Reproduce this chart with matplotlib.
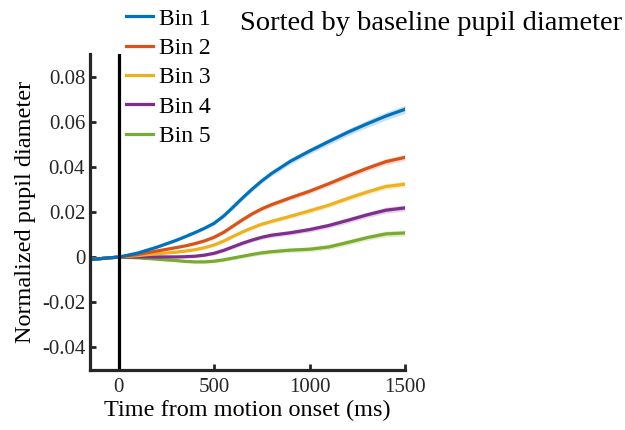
import numpy as np
import matplotlib
matplotlib.use('Agg')
import matplotlib.pyplot as plt

plt.rcParams['font.family'] = ['Liberation Serif', 'DejaVu Serif']

# time axis (ms from motion onset)
t = [-150, -100, -50, 0, 100, 200, 300, 350, 400, 450, 500, 550, 600,
     650, 700, 750, 800, 900, 1000, 1100, 1200, 1300, 1400, 1500]

bin1 = [-0.001, -0.0007, -0.0003, 0, 0.0018, 0.0044, 0.0074, 0.0091, 0.0109,
        0.0128, 0.015, 0.0182, 0.0222, 0.0263, 0.0302, 0.0338, 0.037,
        0.0425, 0.047, 0.0512, 0.0553, 0.059, 0.0625, 0.0655]
bin2 = [-0.001, -0.0007, -0.0003, 0, 0.0012, 0.0027, 0.0042, 0.005, 0.006,
        0.0072, 0.0088, 0.011, 0.0138, 0.0166, 0.0192, 0.0214, 0.0232,
        0.0263, 0.0292, 0.0325, 0.036, 0.0393, 0.0423, 0.0442]
bin3 = [-0.001, -0.0007, -0.0003, 0, 0.0007, 0.0015, 0.0022, 0.0027, 0.0033,
        0.0042, 0.0054, 0.0071, 0.0092, 0.0112, 0.013, 0.0146, 0.0158,
        0.0181, 0.0205, 0.023, 0.026, 0.0288, 0.0313, 0.0323]
bin4 = [-0.001, -0.0007, -0.0003, 0, 0.0001, 0.0001, 0.0001, 0.0002, 0.0004,
        0.0009, 0.0017, 0.003, 0.0046, 0.0062, 0.0076, 0.0088, 0.0097,
        0.0108, 0.0122, 0.014, 0.0163, 0.0187, 0.0208, 0.0218]
bin5 = [-0.001, -0.0007, -0.0003, 0, -0.0003, -0.0009, -0.0015, -0.0019,
        -0.0021, -0.0021, -0.0018, -0.0012, -0.0004, 0.0004, 0.0012, 0.0019,
        0.0024, 0.0031, 0.0035, 0.0045, 0.0065, 0.0086, 0.0103, 0.0107]

# shaded error band half-widths
sem1 = [0.0003, 0.0002, 0.0001, 0, 0.0003, 0.0005, 0.0006, 0.0006, 0.0007,
        0.0007, 0.0008, 0.0008, 0.0009, 0.0009, 0.001, 0.001, 0.0011,
        0.0012, 0.0013, 0.0014, 0.0015, 0.0016, 0.0017, 0.0018]
sem_other = [0.0003, 0.0002, 0.0001, 0, 0.0002, 0.0004, 0.0005, 0.0005,
             0.0006, 0.0006, 0.0007, 0.0007, 0.0008, 0.0008, 0.0009, 0.0009,
             0.001, 0.001, 0.0011, 0.0011, 0.0012, 0.0012, 0.0013, 0.0013]

labels = ['Bin 1', 'Bin 2', 'Bin 3', 'Bin 4', 'Bin 5']
colors = ['#0072BD', '#D95319', '#EDB120', '#7E2F8E', '#77AC30']
series = [bin1, bin2, bin3, bin4, bin5]
sems = [sem1, sem_other, sem_other, sem_other, sem_other]

fig = plt.figure(figsize=(6.25, 4.3), dpi=100)
ax = fig.add_axes([0.144, 0.1395, 0.504, 0.735])

x = np.array(t)
for y, s, c in zip(series, sems, colors):
    y = np.array(y)
    s = np.array(s)
    ax.fill_between(x, y - s, y + s, color=c, alpha=0.22, linewidth=0)
# Bin 1 drawn last so it sits on top
handles = []
for y, c, lab in reversed(list(zip(series, colors, labels))):
    h, = ax.plot(x, y, color=c, lw=2.3, label=lab, solid_joinstyle='round')
    handles.append(h)
handles = handles[::-1]

ax.axvline(0, color='k', lw=2.3)

ax.set_xlim(-150, 1500)
ax.set_ylim(-0.05, 0.09)
ax.set_xticks([0, 500, 1000, 1500])
ax.set_xticklabels(['0', '500', '1000', '1500'])
ax.set_yticks([-0.04, -0.02, 0, 0.02, 0.04, 0.06, 0.08])
ax.set_yticklabels(['-0.04', '-0.02', '0', '0.02', '0.04', '0.06', '0.08'])

for side in ['top', 'right']:
    ax.spines[side].set_visible(False)
for side in ['left', 'bottom']:
    ax.spines[side].set_linewidth(2.3)
    ax.spines[side].set_color('#262626')
ax.tick_params(direction='in', length=4, width=2, labelsize=15,
               colors='#262626', labelcolor='#262626')
ax.tick_params(axis='x', pad=6)

ax.set_xlabel('Time from motion onset (ms)', fontsize=17.5, color='black',
              labelpad=2)
ax.set_ylabel('Normalized pupil diameter', fontsize=17.5, color='black')

fig.legend(handles=handles, labels=labels, loc='upper left',
           bbox_to_anchor=(0.187, 1.003), frameon=False, fontsize=17,
           handlelength=1.15, handletextpad=0.22, labelspacing=0.33,
           borderaxespad=0)

fig.text(0.384, 0.945, 'Sorted by baseline pupil diameter', fontsize=20.5,
         ha='left', va='center')

fig.savefig('out.png', dpi=100)
